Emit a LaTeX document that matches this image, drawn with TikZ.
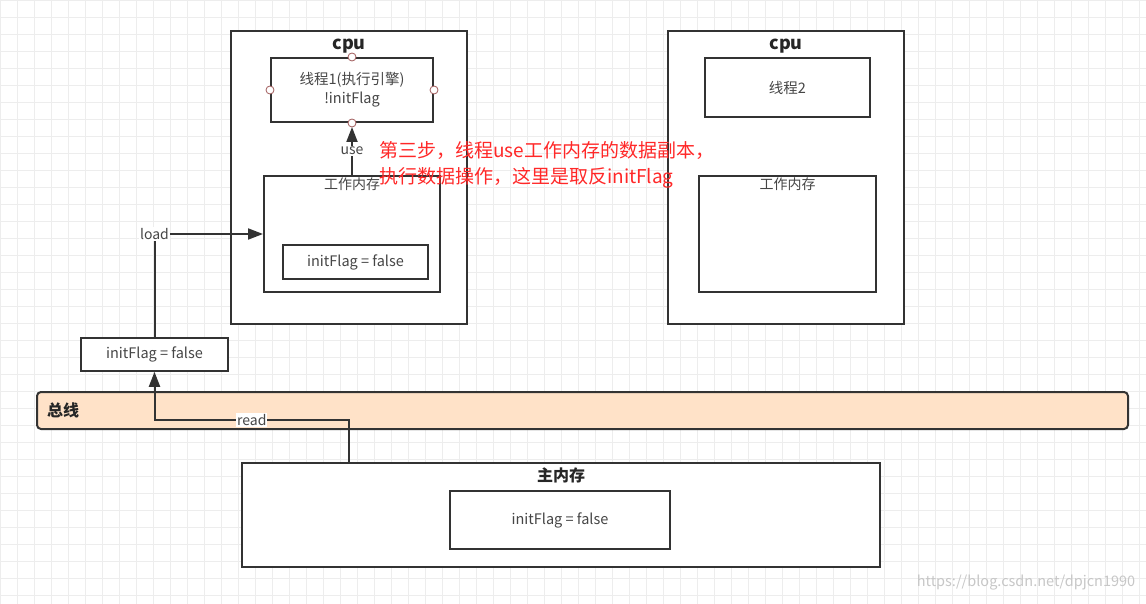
\documentclass[tikz,border=0pt]{standalone}
\usepackage{fontspec}
\setmainfont{Noto Sans CJK SC}
\usepackage{xcolor}
\definecolor{edgegray}{RGB}{51, 51, 51}
\definecolor{textgray}{RGB}{70, 70, 70}
\definecolor{busorange}{RGB}{255, 226, 200}
\definecolor{notered}{RGB}{255, 40, 40}
\definecolor{handlered}{RGB}{160, 90, 90}
\usepackage{tikz}
\usetikzlibrary{arrows.meta, positioning, calc}

\begin{document}
\begin{tikzpicture}[x=1pt, y=-1pt,
        cpubox/.style={rectangle, draw=edgegray, line width=2pt, fill=white, minimum width=236pt, minimum height=293pt, inner sep=0pt},
        threadbox/.style={rectangle, draw=edgegray, line width=2pt, fill=white, text=textgray, align=center, font=\fontsize{14.5}{19}\selectfont, inner sep=0pt},
        membox/.style={rectangle, draw=edgegray, line width=2pt, fill=white, minimum width=176pt, minimum height=116pt, inner sep=0pt},
        valbox/.style={rectangle, draw=edgegray, line width=1.6pt, fill=white, text=textgray, font=\fontsize{14.5}{17}\selectfont, inner sep=0pt},
        titletext/.style={font=\bfseries\fontsize{18}{20}\selectfont, text=black!85, inner sep=0pt},
        subtitle/.style={font=\fontsize{14}{16}\selectfont, text=textgray, inner sep=0pt},
        handle/.style={circle, draw=handlered, fill=white, line width=0.8pt, minimum size=8pt, inner sep=0pt},
        lbl/.style={fill=white, text=textgray, font=\fontsize{14}{16}\selectfont, inner sep=1pt},
        line/.style={draw=edgegray, line width=2pt, -{Triangle[length=15pt, width=11pt]}}]

        \useasboundingbox (0,0) rectangle (1146,604);
        \fill[white] (0,0) rectangle (1146,604);
        % grille de fond
        \foreach \gx in {0,17,...,1146}
            \draw[black!7, line width=0.6pt] (\gx,0) -- (\gx,604);
        \foreach \gy in {0,17,...,604}
            \draw[black!7, line width=0.6pt] (0,\gy) -- (1146,\gy);

        % cpu 1
        \node [cpubox] (cpu1) at (349,177.5) {};
        \node [titletext, below=9pt of cpu1.north] (cpu1title) {cpu};
        \node [threadbox, minimum width=162pt, minimum height=64pt] (thread1) at (352,90) {线程1(执行引擎)\\!initFlag};
        \node [membox] (work1) at (352,234) {};
        \node [subtitle, below=3pt of work1.north] (work1title) {工作内存};
        \node [valbox, minimum width=145pt, minimum height=34pt] (flag1) at (355.5,262) {initFlag = false};

        % cpu 2
        \node [cpubox, right=199pt of cpu1] (cpu2) {};
        \node [titletext, below=9pt of cpu2.north] (cpu2title) {cpu};
        \node [threadbox, minimum width=165pt, minimum height=59pt] (thread2) at (787.5,87.5) {线程2};
        \node [membox, minimum width=177pt] (work2) at (787.5,234) {};
        \node [subtitle, below=3pt of work2.north] (work2title) {工作内存};

        % copie lue
        \node [valbox, minimum width=147pt, minimum height=33pt] (flagcopy) at (154.5,354.5) {initFlag = false};

        % bus
        \node [rectangle, draw=edgegray, line width=2pt, fill=busorange, rounded corners=4pt, minimum width=1091pt, minimum height=37pt, inner sep=0pt] (bus) at (582.5,410.5) {};
        \node [font=\bfseries\fontsize{16}{18}\selectfont, text=black!85, inner sep=0pt, right=11pt of bus.west] (bustitle) {总线};

        % memoire principale
        \node [rectangle, draw=edgegray, line width=2pt, fill=white, minimum width=638pt, minimum height=104pt, inner sep=0pt] (mainmem) at (561,515) {};
        \node [font=\bfseries\fontsize{16}{18}\selectfont, text=black!85, inner sep=0pt, below=6pt of mainmem.north] (mainmemtitle) {主内存};
        \node [valbox, minimum width=220pt, minimum height=58pt] (mainflag) at (560,520) {initFlag = false};

        % connexions
        \coordinate (readstart) at (349,463);
        \path [line] (readstart) -- ++(0,-43) -| node[lbl, pos=0.25] {read} (flagcopy.south);
        \path [line] (flagcopy.north) |- node[lbl, pos=0.5] {load} (work1.west);
        \path [line, shorten >=4pt] (work1.north) -- node[lbl, pos=0.5, yshift=-2pt] {use} (thread1.south);

        % poignees de selection
        \foreach \a in {north, south, east, west}
            \node [handle] at (thread1.\a) {};

        % note
        \node [anchor=north west, text=notered, align=left, font=\fontsize{19}{26}\selectfont, inner sep=0pt] (note) at (379,141) {第三步，线程use工作内存的数据副本，\\执行数据操作，这里是取反initFlag};

        \node [text=black!22, font=\fontsize{14.5}{17}\selectfont, inner sep=0pt] (mark) at (1026,583) {https://blog.csdn.net/dpjcn1990};
\end{tikzpicture}
\end{document}
